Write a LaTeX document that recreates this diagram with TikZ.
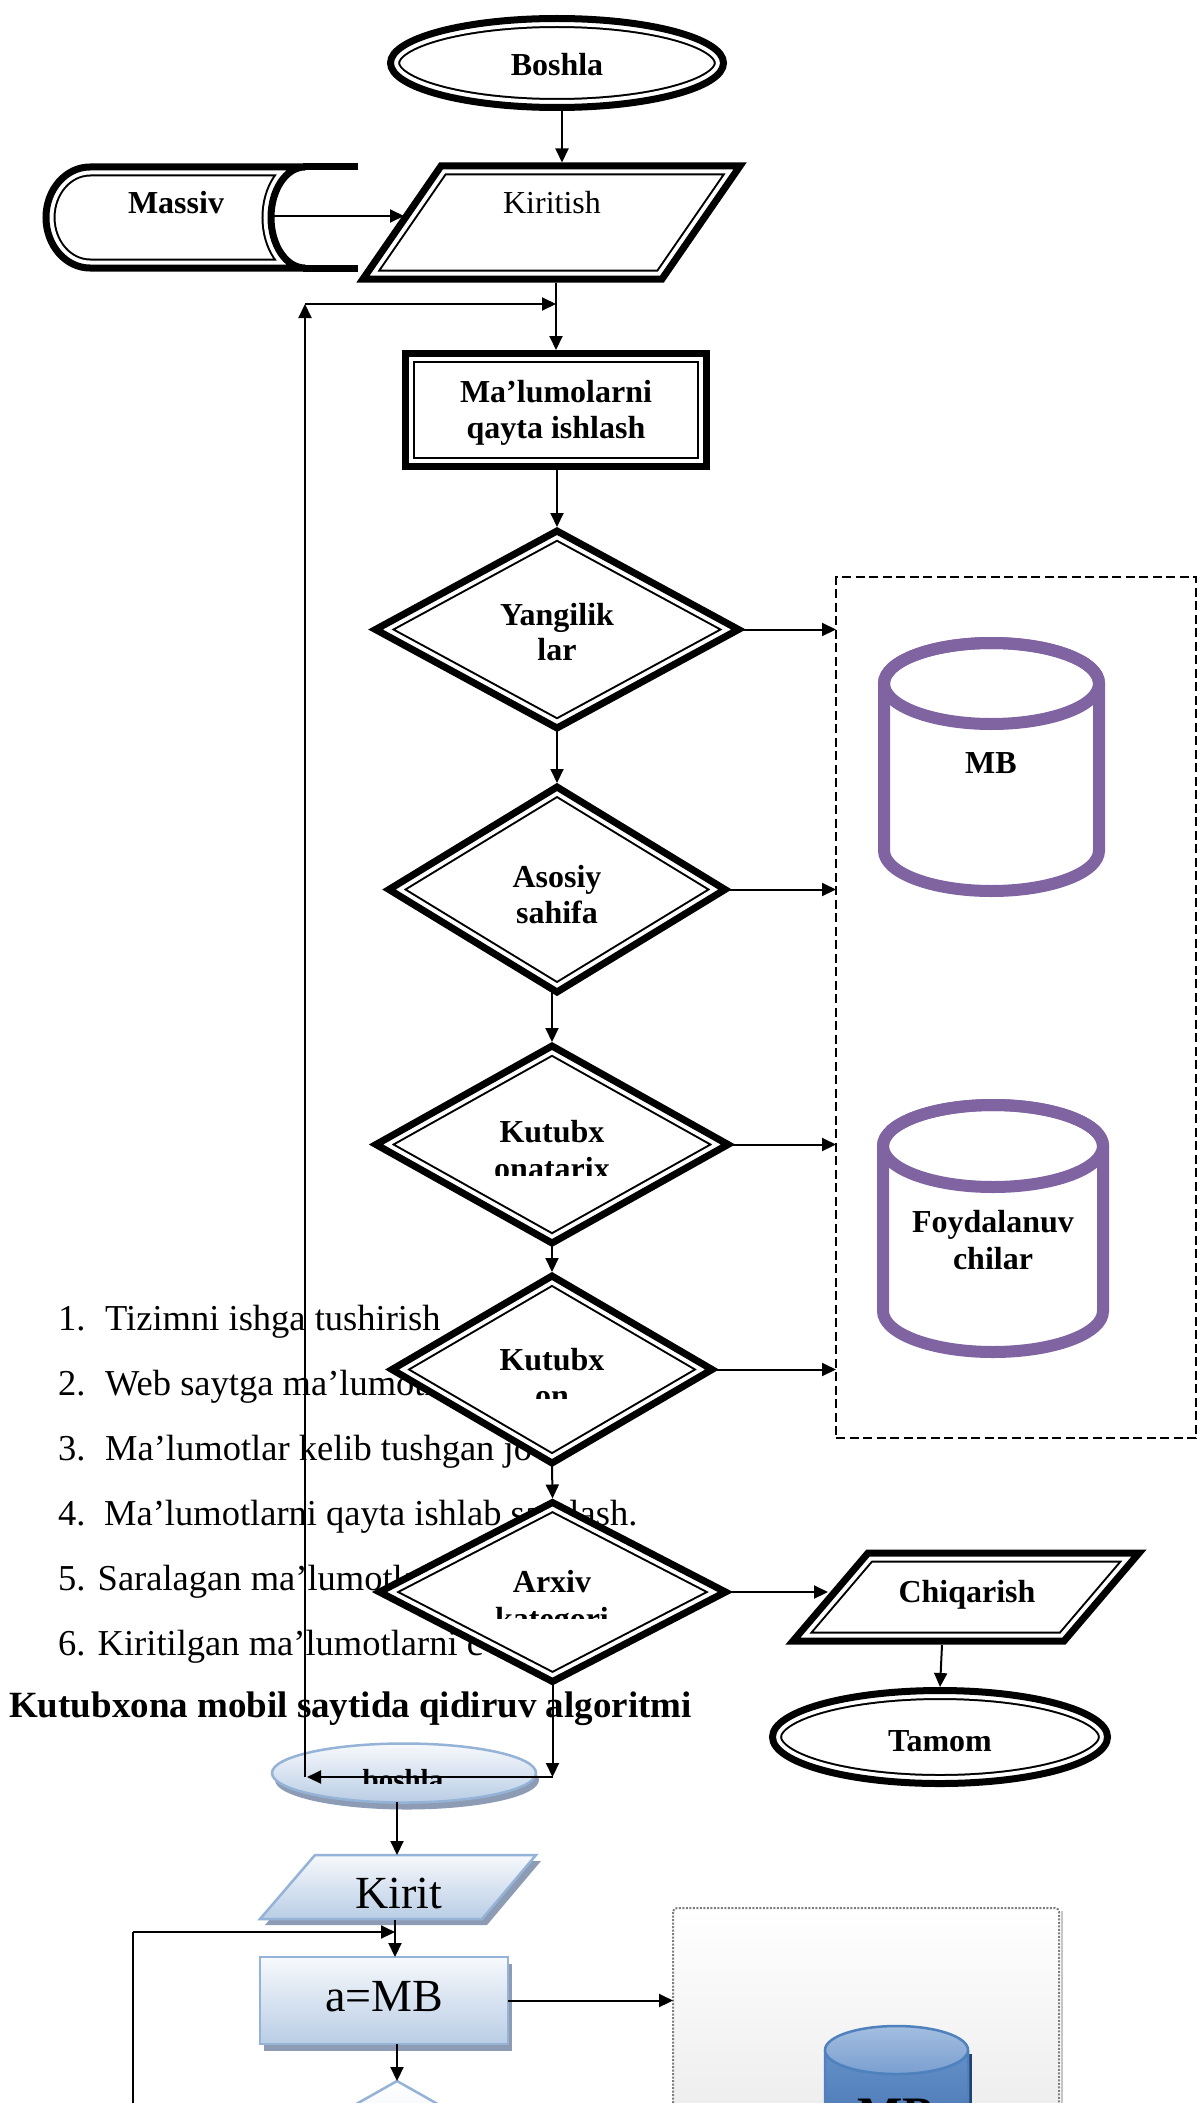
\documentclass[tikz,border=0pt]{standalone}
\usepackage{fontspec}
\setmainfont{Liberation Serif}
\usetikzlibrary{shapes.geometric,arrows.meta,calc}
\definecolor{mbpurple}{HTML}{8064A2}
\definecolor{obline}{HTML}{95B3D7}
\definecolor{obtop}{HTML}{F7F9FC}
\definecolor{obbot}{HTML}{B9CDE5}
\definecolor{obshadow}{HTML}{8D9CB4}
\definecolor{cylline}{HTML}{4F81BD}
\definecolor{cylcaptop}{HTML}{A3BEE0}
\definecolor{cylcapbot}{HTML}{7A9FD0}
\definecolor{cylbodtop}{HTML}{6490C8}
\definecolor{cylbodbot}{HTML}{3E6CAB}
\definecolor{cyldark}{HTML}{23406E}
\definecolor{dotline}{HTML}{7F7F7F}
\definecolor{dotbot}{HTML}{EAEAEA}
\newcommand\fsz[1]{\fontsize{#1}{#1}\selectfont}
\newcommand\ttdraw[1]{%
  \fill[white] #1;
  \begin{scope}\clip #1;
    \draw[line width=19pt] #1;
    \draw[white,line width=15pt] #1;
  \end{scope}
  \draw[line width=7pt] #1;}
\begin{document}
\begin{tikzpicture}[x=1pt,y=1pt,
  conn/.style={line width=2pt,-{Triangle[length=14pt,width=13pt]}},
  plain/.style={line width=2pt},
  shp/.style={inner sep=0pt,outer sep=0pt},
  lbl/.style={font=\bfseries\fsz{32},inner sep=0pt,anchor=base},
  lblr/.style={font=\fsz{32},inner sep=0pt,anchor=base},
  item/.style={font=\fsz{36.5},inner sep=0pt,anchor=base west},
  obfill/.style={top color=obtop,bottom color=obbot,draw=obline,line width=2.5pt}]
\useasboundingbox (0,0) rectangle (1203,-2103);
\clip (0,0) rectangle (1203,-2103);
\fill[white] (0,0) rectangle (1203,-2103);

% ---------- list text and title ----------
\node[item] (it1) at (58,-1330) {\makebox[47pt][l]{1.}Tizimni ishga tushirish};
\node[item] (it2) at (58,-1395) {\makebox[47pt][l]{2.}Web saytga ma’lumotlar};
\node[item] (it3) at (58,-1460) {\makebox[47pt][l]{3.}Ma’lumotlar kelib tushgan jo};
\node[item] (it4) at (58,-1525) {\makebox[46pt][l]{4.}Ma’lumotlarni qayta ishlab saralash.};
\node[item] (it5) at (58,-1590) {5. Saralagan ma’lumotlarni};
\node[item] (it6) at (58,-1655) {6. Kiritilgan ma’lumotlarni c};
\node[font=\bfseries\fsz{37},inner sep=0pt,anchor=base west] (title) at (9,-1717) {Kutubxona mobil saytida qidiruv algoritmi};

% ---------- Boshla ----------
\node[shp,ellipse,minimum width=333pt,minimum height=89pt] (boshla) at (557,-63) {};
\ttdraw{(boshla.center) ellipse (166.5 and 44.5)}
\node[lbl] (boshlaT) at (557,-76) {Boshla};

% ---------- Kiritish ----------
\coordinate (kirTL) at (441,-166);
\coordinate (kirTR) at (740,-166);
\coordinate (kirBR) at (662,-279);
\coordinate (kirBL) at (363,-279);
\ttdraw{(kirTL) -- (kirTR) -- (kirBR) -- (kirBL) -- cycle}
\node[lblr] (kir) at (552,-213) {Kiritish};

% ---------- Massiv ----------
\ttdraw{(305,-167) -- (90,-167) arc (90:270:44 and 50.5) -- (305,-268) arc (270:90:34 and 50.5) -- cycle}
\draw[line width=7pt] (303,-167) -- (358,-167);
\draw[line width=7pt] (303,-268) -- (358,-268);
\node[lbl] (massiv) at (176,-213) {Massiv};

% ---------- Ma'lumolarni qayta ishlash ----------
\node[shp,rectangle,minimum width=301pt,minimum height=113pt] (qayta) at (556,-410) {};
\ttdraw{(qayta.north west) rectangle (qayta.south east)}
\node[lbl] (qaytaT1) at (556,-402) {Ma’lumolarni};
\node[lbl] (qaytaT2) at (556,-438) {qayta ishlash};

% ---------- diamonds ----------
\node[shp,diamond,minimum width=363pt,minimum height=197pt] (d1) at (557,-629.5) {};
\ttdraw{(d1.north) -- (d1.east) -- (d1.south) -- (d1.west) -- cycle}
\node[lbl] (d1T1) at (557,-625) {Yangilik};
\node[lbl] (d1T2) at (557,-660) {lar};

\node[shp,diamond,minimum width=336pt,minimum height=205pt] (d2) at (557,-889.5) {};
\ttdraw{(d2.north) -- (d2.east) -- (d2.south) -- (d2.west) -- cycle}
\node[lbl] (d2T1) at (557,-887) {Asosiy};
\node[lbl] (d2T2) at (557,-923) {sahifa};

\node[shp,diamond,minimum width=352pt,minimum height=197pt] (d3) at (552,-1144.5) {};
\ttdraw{(d3.north) -- (d3.east) -- (d3.south) -- (d3.west) -- cycle}
\node[lbl] (d3T1) at (552,-1142) {Kutubx};
\begin{scope}
  \clip (420,-1100) rectangle (690,-1175);
  \node[lbl] (d3T2) at (552,-1179) {onatarix};
\end{scope}

\node[shp,diamond,minimum width=320pt,minimum height=187pt] (d4) at (552,-1369.5) {};
\ttdraw{(d4.north) -- (d4.east) -- (d4.south) -- (d4.west) -- cycle}
\node[lbl] (d4T1) at (552,-1370) {Kutubx};
\begin{scope}
  \clip (420,-1330) rectangle (690,-1398);
  \node[lbl] (d4T2) at (552,-1406) {on};
\end{scope}

\node[shp,diamond,minimum width=346pt,minimum height=179pt] (d5) at (552.5,-1592) {};
\ttdraw{(d5.north) -- (d5.east) -- (d5.south) -- (d5.west) -- cycle}
\node[lbl] (d5T1) at (552,-1592) {Arxiv};
\begin{scope}
  \clip (420,-1550) rectangle (690,-1618);
  \node[lbl] (d5T2) at (552,-1629) {kategori};
\end{scope}

% ---------- dashed box with purple cylinders ----------
\node[shp,draw,line width=2.5pt,dash pattern=on 9pt off 4.5pt,minimum width=360pt,minimum height=861pt] (dbox) at (1016,-1007.5) {};
\draw[mbpurple,line width=12pt,fill=white] (884,-683.5) -- (884,-850.5) arc (180:360:107.5 and 40.5) -- (1099,-683.5) arc (0:180:107.5 and 40.5) -- cycle;
\draw[mbpurple,line width=12pt] (991.5,-683.5) ellipse (107.5 and 40.5);
\node[lbl] (mb1) at (991,-773) {MB};
\draw[mbpurple,line width=12pt,fill=white] (883,-1146) -- (883,-1311) arc (180:360:110 and 41) -- (1103,-1146) arc (0:180:110 and 41) -- cycle;
\draw[mbpurple,line width=12pt] (993,-1146) ellipse (110 and 41);
\node[lbl] (foyT1) at (993,-1232) {Foydalanuv};
\node[lbl] (foyT2) at (993,-1269) {chilar};

% ---------- Chiqarish and Tamom ----------
\coordinate (chiTL) at (868,-1553);
\coordinate (chiTR) at (1139,-1553);
\coordinate (chiBR) at (1064,-1641);
\coordinate (chiBL) at (793,-1641);
\ttdraw{(chiTL) -- (chiTR) -- (chiBR) -- (chiBL) -- cycle}
\node[lbl] (chiq) at (967,-1602) {Chiqarish};
\node[shp,ellipse,minimum width=335pt,minimum height=93pt] (tamom) at (940,-1737) {};
\ttdraw{(tamom.center) ellipse (167.5 and 46.5)}
\node[lbl] (tamomT) at (940,-1751) {Tamom};

% ---------- lower flowchart ----------
\node[shp,ellipse,minimum width=264pt,minimum height=59pt] (bosh2) at (404,-1773) {};
\fill[obshadow] (407,-1780) ellipse (132 and 29.5);
\shadedraw[obfill] (bosh2.center) ellipse (132 and 29.5);
\begin{scope}
  \clip (300,-1740) rectangle (510,-1783);
  \node[font=\bfseries\fsz{29},inner sep=0pt,anchor=base] (bosh2T) at (403,-1789) {boshla};
\end{scope}

\fill[obshadow] (320,-1861) -- (541,-1861) -- (487,-1925) -- (265,-1925) -- cycle;
\shadedraw[obfill] (315,-1855) -- (536,-1855) -- (482,-1919) -- (260,-1919) -- cycle;
\node[font=\fsz{46},inner sep=0pt,anchor=base] (kirit) at (399,-1908) {Kirit};

\node[shp,rectangle,minimum width=248pt,minimum height=87pt] (amb) at (384,-2000.5) {};
\fill[obshadow] (264,-1964) rectangle (512,-2051);
\shadedraw[obfill] (amb.north west) rectangle (amb.south east);
\node[font=\fsz{46},inner sep=0pt,anchor=base] (ambT) at (384,-2011) {a=MB};

\node[shp,rectangle,minimum width=386pt,minimum height=244pt] (dotbox) at (866,-2030) {};
\draw[gray!45,line width=2pt] (1062,-1911) -- (1062,-2160);
\shadedraw[top color=white,bottom color=dotbot,draw=dotline,line width=2pt,dash pattern=on 2pt off 1.5pt,rounded corners=4pt] (dotbox.north west) rectangle (dotbox.south east);

\fill[cyldark] (829,-2054) -- (829,-2160) -- (972,-2160) -- (972,-2054) -- cycle;
\shadedraw[top color=cylbodtop,bottom color=cylbodbot,draw=cylline,line width=2.5pt] (825,-2050) -- (825,-2170) -- (968,-2170) -- (968,-2050) arc (0:-180:71.5 and 24) -- cycle;
\shadedraw[top color=cylcaptop,bottom color=cylcapbot,draw=cylline,line width=2.5pt] (896.5,-2050) ellipse (71.5 and 24);
\node[font=\bfseries\fsz{48},inner sep=0pt,anchor=base] (mb2) at (896,-2130) {MB};

\node[shp,diamond,minimum width=354pt,minimum height=200pt] (d6) at (397,-2181) {};
\shadedraw[top color=white,bottom color=obbot,draw=obline,line width=2.5pt] (d6.north) -- (d6.east) -- (d6.south) -- (d6.west) -- cycle;

% ---------- connector end points ----------
\coordinate (bS) at (562,-111);
\coordinate (kirN) at (562,-162.5);
\coordinate (masOut) at (271,-216);
\coordinate (kirW) at (404,-216);
\coordinate (kirS) at (556,-283);
\coordinate (lpA) at (552.5,-1777);
\coordinate (lpB) at (307,-1777);
\coordinate (lpB2) at (305,-1777);
\coordinate (lpC) at (305,-304);
\coordinate (lpD) at (556,-304);
\coordinate (chiW) at (828,-1592);
\coordinate (chiS) at (942,-1645);
\coordinate (b2S) at (397,-1802);
\coordinate (kit2N) at (397,-1855);
\coordinate (kit2S) at (395,-1920);
\coordinate (ambN) at (395,-1957);
\coordinate (lp2A) at (133,-2110);
\coordinate (lp2B) at (133,-1932);
\coordinate (lp2C) at (395,-1932);
\coordinate (ambS) at (397,-2044);

% ---------- connectors ----------
\draw[conn] (bS) -- (kirN);
\draw[conn] (masOut) -- (kirW);
\draw[conn] (kirS) -- ([yshift=3.5pt]qayta.north);
\draw[conn] (lpC) -- (lpD);
\draw[conn] (lpB2) -- (lpC);
\draw[conn] (d1.north |- qayta.south) -- ([yshift=4pt]d1.north);
\draw[conn] (d1.south) -- ([yshift=4pt]d2.north);
\draw[conn] (d3.north |- d2.south) -- ([yshift=4pt]d3.north);
\draw[conn] (d3.south) -- ([yshift=4pt]d4.north);
\draw[conn] (d4.south) -- ([yshift=4pt]d5.north);
\draw[conn] (d1.east) -- (d1.east -| dbox.west);
\draw[conn] (d2.east) -- (d2.east -| dbox.west);
\draw[conn] (d3.east) -- (d3.east -| dbox.west);
\draw[conn] (d4.east) -- (d4.east -| dbox.west);
\draw[conn] (d5.east) -- (chiW);
\draw[conn] (chiS) -- ([yshift=3.5pt]tamom.north);
\draw[conn] (d5.south) -- (lpA);
\draw[conn] (lpA) -- (lpB);
\draw[conn] (b2S) -- (kit2N);
\draw[conn] (kit2S) -- (ambN);
\draw[plain] (lp2A) -- (lp2B);
\draw[conn] (lp2B) -- (lp2C);
\draw[conn] (amb.east) -- (amb.east -| dotbox.west);
\draw[conn] (ambS) -- (d6.north);
\end{tikzpicture}
\end{document}
